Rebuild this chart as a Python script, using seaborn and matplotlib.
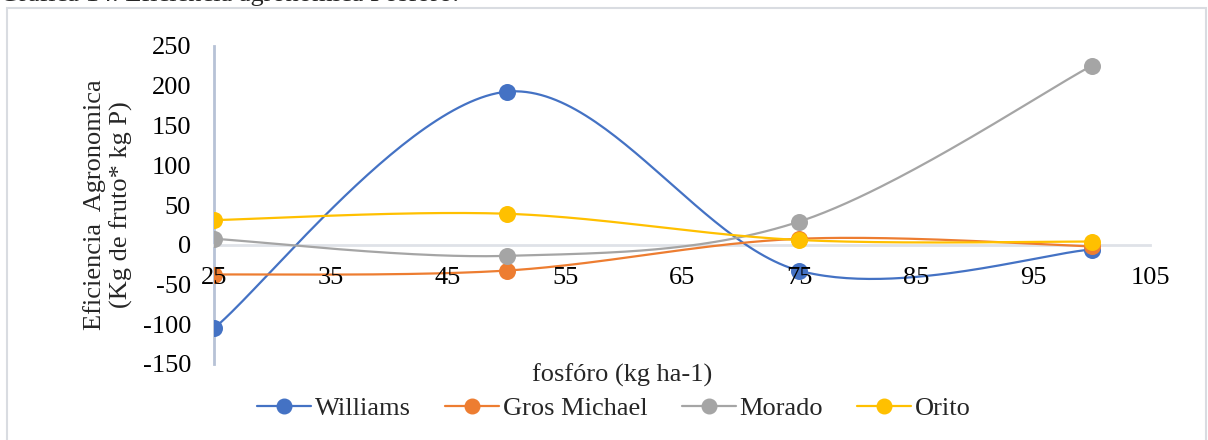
import numpy as np
import pandas as pd
import matplotlib
matplotlib.use("Agg")
import matplotlib.pyplot as plt
from matplotlib.lines import Line2D
from matplotlib.patches import Rectangle
import seaborn as sns

# Phosphorus doses (kg ha-1)
dosis = [25, 50, 75, 100]

# Agronomic efficiency per variety
williams = [-105, 192.5, -32.5, -6]
gros_michael = [-37.5, -32.5, 7.5, -2]
morado = [7.5, -14, 29, 225]
orito = [31, 39, 6, 4]

series = ["Williams", "Gros Michael", "Morado", "Orito"]
valores = [williams, gros_michael, morado, orito]
colores = ["#4472C4", "#ED7D31", "#A5A5A5", "#FFC000"]

y_ticks = [-150, -100, -50, 0, 50, 100, 150, 200, 250]
x_ticks = [25, 35, 45, 55, 65, 75, 85, 95, 105]


def suavizar(xs, ys, n=60):
    """Smoothed line through the points using cubic Bezier segments
    with Catmull-Rom control points (spreadsheet-style smoothing)."""
    P = np.column_stack([xs, ys]).astype(float)
    out = []
    for i in range(len(P) - 1):
        p0 = P[i - 1] if i > 0 else P[i]
        p1 = P[i]
        p2 = P[i + 1]
        p3 = P[i + 2] if i + 2 < len(P) else P[i + 1]
        c1 = p1 + (p2 - p0) / 6.0
        c2 = p2 - (p3 - p1) / 6.0
        t = np.linspace(0, 1, n)[:, None]
        seg = ((1 - t) ** 3) * p1 + 3 * ((1 - t) ** 2) * t * c1 \
            + 3 * (1 - t) * t ** 2 * c2 + t ** 3 * p2
        out.append(seg if i == 0 else seg[1:])
    return np.vstack(out)


curvas = []
puntos = []
for nombre, vals in zip(series, valores):
    c = suavizar(dosis, vals)
    curvas.append(pd.DataFrame({"x": c[:, 0], "y": c[:, 1], "serie": nombre}))
    puntos.append(pd.DataFrame({"x": dosis, "y": vals, "serie": nombre}))
df_curvas = pd.concat(curvas, ignore_index=True)
df_puntos = pd.concat(puntos, ignore_index=True)

sns.set_theme(style="white")
plt.rcParams["font.family"] = ["Liberation Serif", "DejaVu Serif"]
plt.rcParams["axes.unicode_minus"] = False

FS = 19
W, H = 1208, 440
fig = plt.figure(figsize=(W / 100, H / 100), dpi=100)
fig.patch.set_facecolor("white")

# chart frame
fig.patches.append(Rectangle((7 / W, -0.05), 1199 / W, 1.05 - 8 / H,
                             transform=fig.transFigure, fill=False,
                             edgecolor="#d9dce1", linewidth=1.5))

ax = fig.add_axes([214 / W, (H - 364) / H, (1150 - 214) / W, 318 / H])
ax.set_facecolor("none")

for k, (nombre, col) in enumerate(zip(series, colores)):
    sub = df_curvas[df_curvas["serie"] == nombre]
    sns.lineplot(data=sub, x="x", y="y", sort=False, estimator=None,
                 color=col, linewidth=1.6, ax=ax, zorder=3 + 2 * k,
                 legend=False)
    subp = df_puntos[df_puntos["serie"] == nombre]
    sns.scatterplot(data=subp, x="x", y="y", color=col, s=150,
                    edgecolor=col, linewidth=0, ax=ax, zorder=4 + 2 * k,
                    legend=False)

ax.set_xlim(25, 105)
ax.set_ylim(-150, 250)
ax.set_xticks(x_ticks)
ax.set_yticks(y_ticks)
ax.set_xlabel("")
ax.set_ylabel("")

for s in ["top", "right"]:
    ax.spines[s].set_visible(False)
ax.spines["bottom"].set_position(("data", 0))
ax.spines["bottom"].set_color("#dfe2e8")
ax.spines["bottom"].set_linewidth(2)
ax.spines["left"].set_color("#b7c2d6")
ax.spines["left"].set_linewidth(2)
ax.spines["bottom"].set_zorder(1)
ax.spines["left"].set_zorder(1)

ax.tick_params(axis="both", length=0, labelsize=FS, colors="black")
ax.tick_params(axis="x", pad=16)
ax.tick_params(axis="y", pad=16.5)
# tick labels sit above the series
ax.xaxis.set_zorder(20)
ax.yaxis.set_zorder(20)

# axis titles
fig.text(95 / W, 1 - 205 / H, "Eficiencia  Agronomica", rotation=90,
         ha="center", va="center", fontsize=FS)
fig.text(121 / W, 1 - 205 / H, "(Kg de fruto* kg P)", rotation=90,
         ha="center", va="center", fontsize=FS)
fig.text(622 / W, 1 - 375 / H, "fosfóro (kg ha-1)", ha="center",
         va="center", fontsize=FS)

# figure caption above the frame
fig.text(0 / W, 1 - 1 / H, "Gráfica 14. Eficiencia agronómica Fósforo.",
         ha="left", va="baseline", fontsize=FS)

handles = [Line2D([0], [0], color=c, linewidth=1.6, marker="o",
                  markersize=10.5, markerfacecolor=c, markeredgecolor=c)
           for c in colores]
fig.legend(handles, series, loc="center", bbox_to_anchor=(614 / W, 1 - 408 / H),
           ncol=4, frameon=False, fontsize=FS, handlelength=2.05,
           handletextpad=0.15, columnspacing=1.29)

fig.savefig("out.png", dpi=100)
